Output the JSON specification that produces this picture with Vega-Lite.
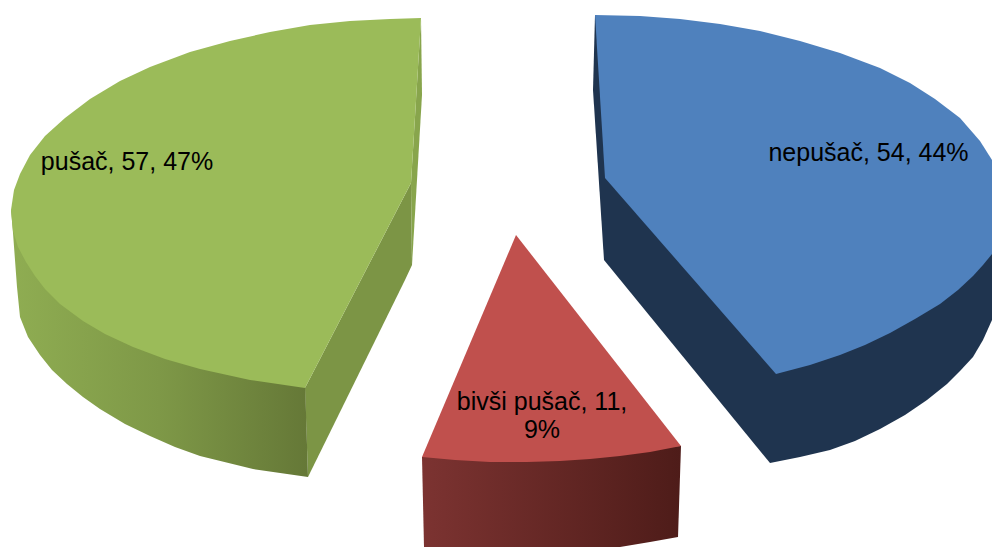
{
"$schema":"https://vega.github.io/schema/vega-lite/v6.json",
"width":992,"height":547,
"autosize":{"type":"fit","contains":"padding"},
"padding":0,
"background":"white",
"config":{"view":{"stroke":null}},
"datasets":{
"outline":[
{"part":"blueSide","seq":1,"px":595,"py":15},{"part":"blueSide","seq":2,"px":593,"py":90},{"part":"blueSide","seq":3,"px":604,"py":260},{"part":"blueSide","seq":4,"px":770,"py":463},{"part":"blueSide","seq":5,"px":800,"py":457},{"part":"blueSide","seq":6,"px":830,"py":450},{"part":"blueSide","seq":7,"px":855,"py":441},{"part":"blueSide","seq":8,"px":880,"py":429},{"part":"blueSide","seq":9,"px":905,"py":415},{"part":"blueSide","seq":10,"px":927,"py":400},{"part":"blueSide","seq":11,"px":947,"py":384},{"part":"blueSide","seq":12,"px":960,"py":371},{"part":"blueSide","seq":13,"px":973,"py":357},{"part":"blueSide","seq":14,"px":983,"py":340},{"part":"blueSide","seq":15,"px":992,"py":320},{"part":"blueSide","seq":16,"px":992,"py":200},
{"part":"blueTop","seq":1,"px":595,"py":15},{"part":"blueTop","seq":2,"px":640,"py":16},{"part":"blueTop","seq":3,"px":680,"py":19},{"part":"blueTop","seq":4,"px":720,"py":24},{"part":"blueTop","seq":5,"px":760,"py":31},{"part":"blueTop","seq":6,"px":800,"py":41},{"part":"blueTop","seq":7,"px":840,"py":53},{"part":"blueTop","seq":8,"px":880,"py":68},{"part":"blueTop","seq":9,"px":910,"py":83},{"part":"blueTop","seq":10,"px":935,"py":99},{"part":"blueTop","seq":11,"px":960,"py":118},{"part":"blueTop","seq":12,"px":980,"py":141},{"part":"blueTop","seq":13,"px":992,"py":160},{"part":"blueTop","seq":14,"px":992,"py":254},{"part":"blueTop","seq":15,"px":983,"py":265},{"part":"blueTop","seq":16,"px":973,"py":276},{"part":"blueTop","seq":17,"px":958,"py":290},{"part":"blueTop","seq":18,"px":940,"py":304},{"part":"blueTop","seq":19,"px":915,"py":319},{"part":"blueTop","seq":20,"px":890,"py":333},{"part":"blueTop","seq":21,"px":865,"py":345},{"part":"blueTop","seq":22,"px":840,"py":355},{"part":"blueTop","seq":23,"px":810,"py":365},{"part":"blueTop","seq":24,"px":776,"py":374},{"part":"blueTop","seq":25,"px":605,"py":178},
{"part":"redSide","seq":1,"px":422,"py":457},{"part":"redSide","seq":2,"px":681,"py":446},{"part":"redSide","seq":3,"px":678,"py":537},{"part":"redSide","seq":4,"px":650,"py":542},{"part":"redSide","seq":5,"px":620,"py":547},{"part":"redSide","seq":6,"px":424,"py":547},
{"part":"redTop","seq":1,"px":516,"py":235},{"part":"redTop","seq":2,"px":681,"py":446},{"part":"redTop","seq":3,"px":650,"py":452},{"part":"redTop","seq":4,"px":620,"py":456},{"part":"redTop","seq":5,"px":590,"py":459},{"part":"redTop","seq":6,"px":560,"py":461},{"part":"redTop","seq":7,"px":527,"py":462},{"part":"redTop","seq":8,"px":490,"py":462},{"part":"redTop","seq":9,"px":455,"py":460},{"part":"redTop","seq":10,"px":422,"py":457},
{"part":"greenWall","seq":1,"px":421,"py":18},{"part":"greenWall","seq":2,"px":422,"py":95},{"part":"greenWall","seq":3,"px":412,"py":265},{"part":"greenWall","seq":4,"px":411,"py":183},
{"part":"greenCut","seq":1,"px":411,"py":183},{"part":"greenCut","seq":2,"px":305,"py":388},{"part":"greenCut","seq":3,"px":308,"py":477},{"part":"greenCut","seq":4,"px":405,"py":280},{"part":"greenCut","seq":5,"px":412,"py":265},
{"part":"greenSide","seq":1,"px":11,"py":210},{"part":"greenSide","seq":2,"px":13,"py":233},{"part":"greenSide","seq":3,"px":17,"py":287},{"part":"greenSide","seq":4,"px":20,"py":317},{"part":"greenSide","seq":5,"px":28,"py":337},{"part":"greenSide","seq":6,"px":40,"py":355},{"part":"greenSide","seq":7,"px":52,"py":370},{"part":"greenSide","seq":8,"px":67,"py":384},{"part":"greenSide","seq":9,"px":83,"py":397},{"part":"greenSide","seq":10,"px":100,"py":409},{"part":"greenSide","seq":11,"px":125,"py":424},{"part":"greenSide","seq":12,"px":150,"py":436},{"part":"greenSide","seq":13,"px":175,"py":447},{"part":"greenSide","seq":14,"px":200,"py":456},{"part":"greenSide","seq":15,"px":253,"py":469},{"part":"greenSide","seq":16,"px":308,"py":477},{"part":"greenSide","seq":17,"px":305,"py":380},
{"part":"greenTop","seq":1,"px":421,"py":18},{"part":"greenTop","seq":2,"px":390,"py":19},{"part":"greenTop","seq":3,"px":350,"py":21},{"part":"greenTop","seq":4,"px":310,"py":25},{"part":"greenTop","seq":5,"px":270,"py":32},{"part":"greenTop","seq":6,"px":230,"py":41},{"part":"greenTop","seq":7,"px":190,"py":52},{"part":"greenTop","seq":8,"px":150,"py":67},{"part":"greenTop","seq":9,"px":120,"py":81},{"part":"greenTop","seq":10,"px":90,"py":99},{"part":"greenTop","seq":11,"px":65,"py":118},{"part":"greenTop","seq":12,"px":45,"py":136},{"part":"greenTop","seq":13,"px":30,"py":155},{"part":"greenTop","seq":14,"px":20,"py":174},{"part":"greenTop","seq":15,"px":14,"py":190},{"part":"greenTop","seq":16,"px":11,"py":210},{"part":"greenTop","seq":17,"px":13,"py":231},{"part":"greenTop","seq":18,"px":18,"py":247},{"part":"greenTop","seq":19,"px":26,"py":262},{"part":"greenTop","seq":20,"px":35,"py":276},{"part":"greenTop","seq":21,"px":45,"py":289},{"part":"greenTop","seq":22,"px":60,"py":304},{"part":"greenTop","seq":23,"px":83,"py":321},{"part":"greenTop","seq":24,"px":105,"py":334},{"part":"greenTop","seq":25,"px":133,"py":347},{"part":"greenTop","seq":26,"px":165,"py":359},{"part":"greenTop","seq":27,"px":200,"py":369},{"part":"greenTop","seq":28,"px":250,"py":380},{"part":"greenTop","seq":29,"px":305,"py":388},{"part":"greenTop","seq":30,"px":411,"py":183}
],
"labels":[
{"slice":"pušač","value":57,"pct":47,"text":"pušač, 57, 47%","px":127,"py":162},
{"slice":"nepušač","value":54,"pct":44,"text":"nepušač, 54, 44%","px":868.5,"py":153},
{"slice":"bivši pušač","value":11,"pct":9,"text":"bivši pušač, 11,\n9%","px":542,"py":402}
]
},
"encoding":{
"x":{"field":"px","type":"quantitative","scale":{"domain":[0,992],"nice":false,"zero":false},"axis":null},
"y":{"field":"py","type":"quantitative","scale":{"domain":[547,0],"nice":false,"zero":false},"axis":null}
},
"layer":[
{"data":{"name":"outline"},"transform":[{"filter":"datum.part=='blueSide'"}],"mark":{"type":"line","fill":"#1F344F","stroke":null,"clip":true},"encoding":{"order":{"field":"seq","type":"quantitative"}}},
{"data":{"name":"outline"},"transform":[{"filter":"datum.part=='blueTop'"}],"mark":{"type":"line","fill":"#4F81BD","stroke":null,"clip":true},"encoding":{"order":{"field":"seq","type":"quantitative"}}},
{"data":{"name":"outline"},"transform":[{"filter":"datum.part=='redSide'"}],"mark":{"type":"line","stroke":null,"clip":true,"fill":{"gradient":"linear","x1":0,"y1":0,"x2":1,"y2":0,"stops":[{"offset":0,"color":"#7C3331"},{"offset":1,"color":"#4E1C19"}]}},"encoding":{"order":{"field":"seq","type":"quantitative"}}},
{"data":{"name":"outline"},"transform":[{"filter":"datum.part=='redTop'"}],"mark":{"type":"line","fill":"#C0504D","stroke":null,"clip":true},"encoding":{"order":{"field":"seq","type":"quantitative"}}},
{"data":{"name":"outline"},"transform":[{"filter":"datum.part=='greenWall'"}],"mark":{"type":"line","fill":"#88A54C","stroke":null,"clip":true},"encoding":{"order":{"field":"seq","type":"quantitative"}}},
{"data":{"name":"outline"},"transform":[{"filter":"datum.part=='greenCut'"}],"mark":{"type":"line","fill":"#7C9545","stroke":null,"clip":true},"encoding":{"order":{"field":"seq","type":"quantitative"}}},
{"data":{"name":"outline"},"transform":[{"filter":"datum.part=='greenSide'"}],"mark":{"type":"line","stroke":null,"clip":true,"fill":{"gradient":"linear","x1":0,"y1":0,"x2":1,"y2":0,"stops":[{"offset":0,"color":"#8FAD52"},{"offset":0.5,"color":"#7E9847"},{"offset":1,"color":"#657837"}]}},"encoding":{"order":{"field":"seq","type":"quantitative"}}},
{"data":{"name":"outline"},"transform":[{"filter":"datum.part=='greenTop'"}],"mark":{"type":"line","fill":"#9BBB59","stroke":null,"clip":true},"encoding":{"order":{"field":"seq","type":"quantitative"}}},
{"data":{"name":"labels"},"mark":{"type":"text","font":"Liberation Sans","fontSize":25,"color":"#000000","align":"center","baseline":"middle","lineBreak":"\n","lineHeight":28},"encoding":{"text":{"field":"text","type":"nominal"}}}
]
}
